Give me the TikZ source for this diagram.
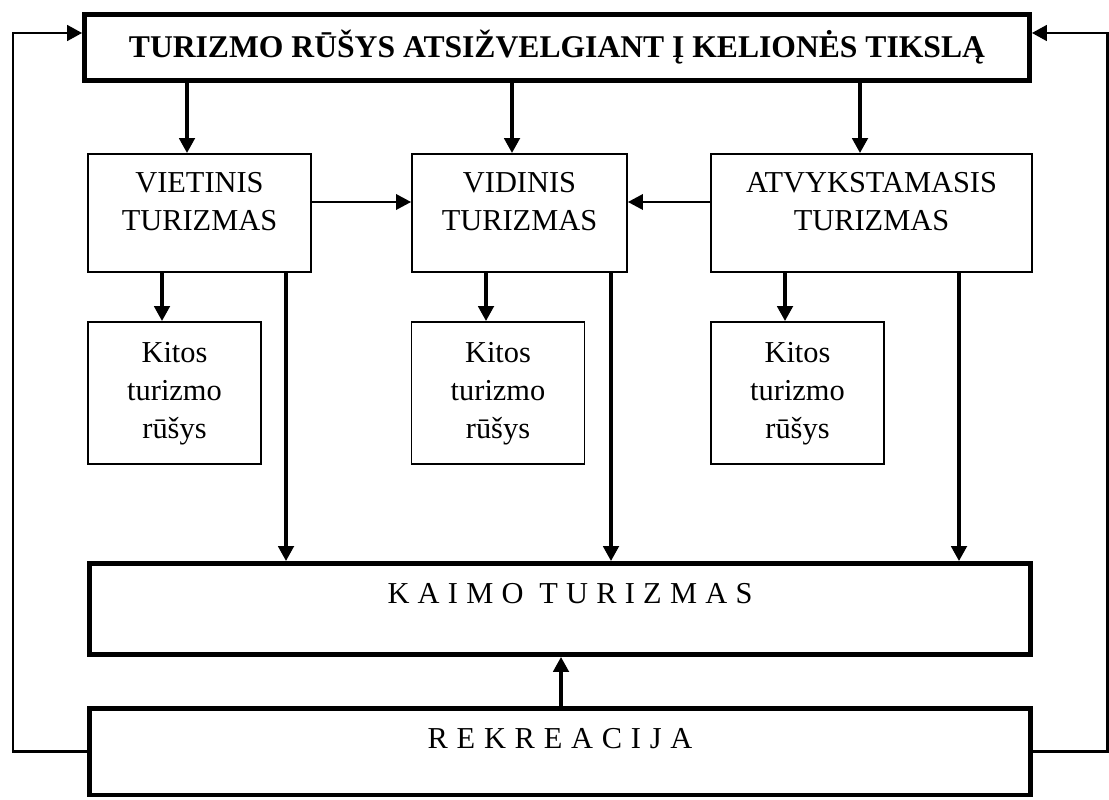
\documentclass[tikz,border=0pt]{standalone}
\usepackage{fontspec}
\setmainfont{Liberation Serif}
\usetikzlibrary{arrows.meta}

\begin{document}
\begin{tikzpicture}[x=0.02cm,y=-0.02cm,>={Triangle[length=0.3cm,width=0.31cm]},
  thickbox/.style={draw,line width=2.8pt,inner sep=0pt},
  thinbox/.style={draw,line width=1.1pt,inner sep=0pt},
  txt/.style={align=center,inner sep=0pt,font=\fontsize{17.3}{21.6}\selectfont},
  arr/.style={->,line width=1.9pt},
  harr/.style={->,line width=1.1pt},
  feedback/.style={->,line width=1.7pt}]
\useasboundingbox (0,0) rectangle (1109,800);
% boxes
\node[thickbox,minimum width=18.9cm,minimum height=1.32cm,font=\bfseries\fontsize{18}{21.6}\selectfont](top)at(557,47.5){TURIZMO RŪŠYS ATSIŽVELGIANT Į KELIONĖS TIKSLĄ};
\node[thinbox,minimum width=4.46cm,minimum height=2.36cm](vie)at(199.5,213){};
\node[thinbox,minimum width=4.30cm,minimum height=2.36cm](vid)at(519.5,213){};
\node[thinbox,minimum width=6.42cm,minimum height=2.36cm](atv)at(871.5,213){};
\foreach \n/\x in {k1/174.5,k2/498,k3/797.5}
  \node[thinbox,minimum width=3.46cm,minimum height=2.84cm](\n)at(\x,393){};
\node[thickbox,minimum width=18.82cm,minimum height=1.82cm](kaimo)at(560,609){};
\node[thickbox,minimum width=18.82cm,minimum height=1.73cm](rek)at(560,751.75){};
% texts
\node[txt,anchor=north](vietxt)at(199.5,172){VIETINIS\\TURIZMAS};
\node[txt,anchor=north](vidtxt)at(519.5,172){VIDINIS\\TURIZMAS};
\node[txt,anchor=north](atvtxt)at(871.5,172){ATVYKSTAMASIS\\TURIZMAS};
\foreach \n/\x in {k1/174.5,k2/498,k3/797.5}
  \node[txt,anchor=north](\n txt)at(\x,342){Kitos\\turizmo\\rūšys};
\node[txt,anchor=north](kaimotxt)at(570,583){\spaceskip=4.7pt K A I M O\hspace{9pt}T U R I Z M A S};
\node[txt,anchor=north](rektxt)at(560,728){\spaceskip=5pt R E K R E A C I J A};
% arrows
\foreach \n/\x in {vie/187,vid/512,atv/860}\draw[arr](top.south-|\x,0)--(\n.north-|\x,0);
\foreach \a/\b/\x in {vie/k1/162,vid/k2/486,atv/k3/785}\draw[arr](\a.south-|\x,0)--(\b.north-|\x,0);
\foreach \n/\x in {vie/286,vid/611,atv/959}\draw[arr](\n.south-|\x,0)--(kaimo.north-|\x,0);
\draw[harr](vie.east|-0,202)--(vid.west|-0,202);
\draw[harr](atv.west|-0,202)--(vid.east|-0,202);
\draw[arr](rek.north-|561,0)--(kaimo.south-|561,0);
% feedback lines
\coordinate(lrail)at(13,33);\coordinate(rrail)at(1107,33);
\draw[feedback](rek.west)-|(lrail)--(top.west|-lrail);
\draw[feedback](rek.east)-|(rrail)--(top.east|-rrail);
\end{tikzpicture}
\end{document}
